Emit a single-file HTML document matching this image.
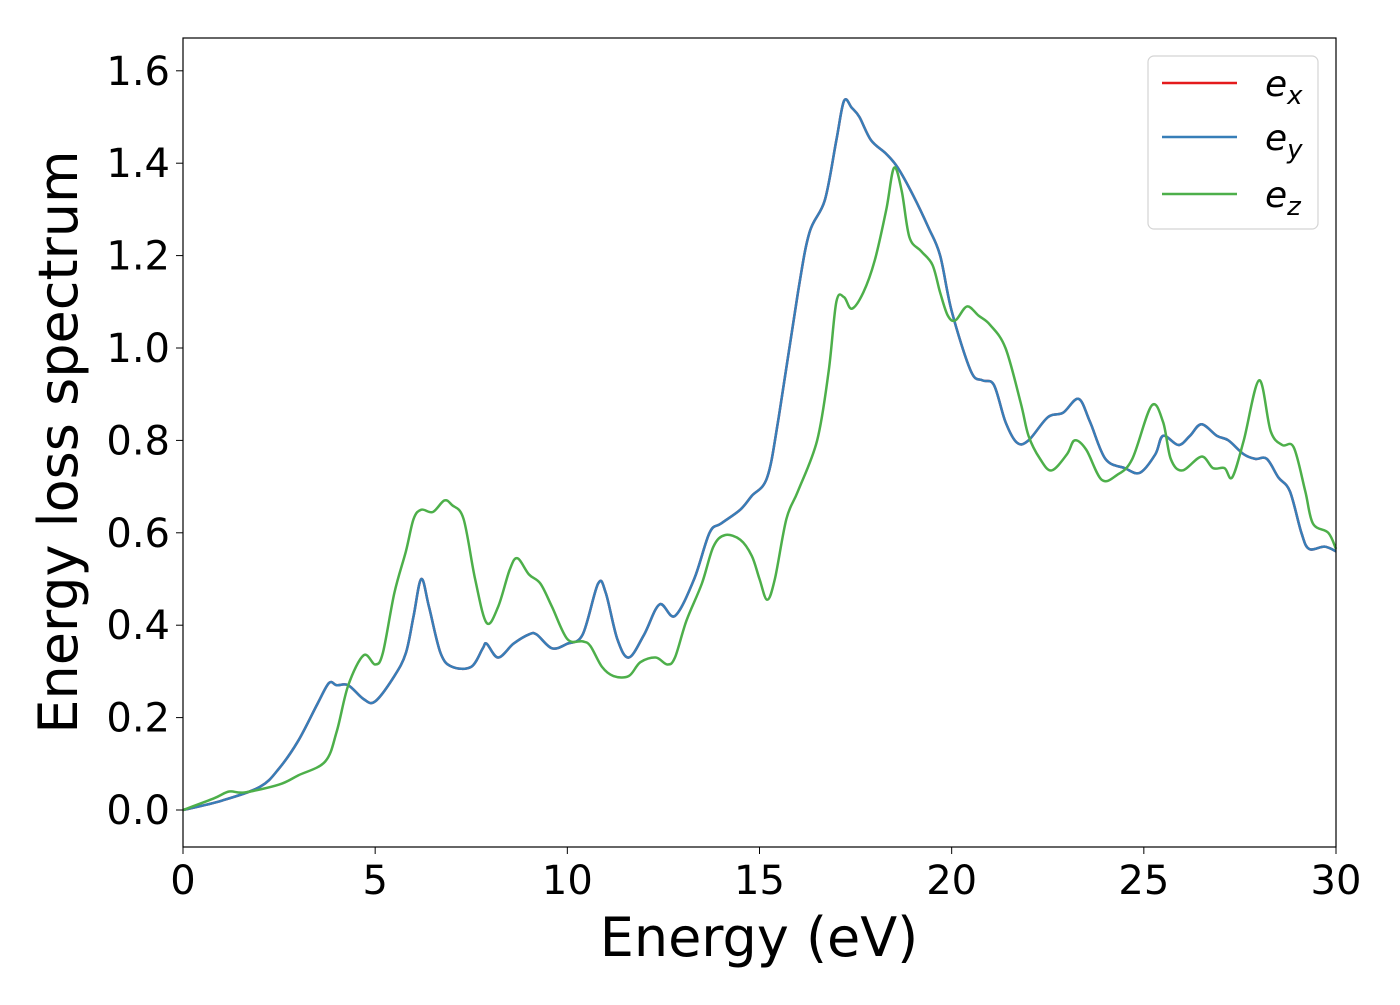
<!DOCTYPE html>
<html><head><meta charset="utf-8"><style>
body{margin:0;background:#fff;}
svg text{font-family:"DejaVu Sans","Liberation Sans",sans-serif;}
</style></head><body>
<svg id="chart" width="1400" height="1000" xmlns="http://www.w3.org/2000/svg">
<g id="lines"></g>
<rect x="183" y="38" width="1153" height="809" fill="none" stroke="#000" stroke-width="1.2"/>
<g id="xt"></g>
<g id="yt"></g>
<text x="759" y="956" font-size="54" text-anchor="middle">Energy (eV)</text>
<text transform="translate(77,442) rotate(-90)" font-size="54" text-anchor="middle">Energy loss spectrum</text>
<g>
<rect x="1148" y="56" width="170" height="173" rx="6" fill="#fff" stroke="#d0d0d0" stroke-width="1.2" opacity="0.9"/>
<line x1="1162" y1="83" x2="1237" y2="83" stroke="#e41a1c" stroke-width="2.5"/>
<text x="1265" y="96" font-size="36" font-style="italic">e<tspan font-size="26" dy="8">x</tspan></text>
<line x1="1162" y1="137" x2="1237" y2="137" stroke="#377eb8" stroke-width="2.5"/>
<text x="1265" y="150" font-size="36" font-style="italic">e<tspan font-size="26" dy="8">y</tspan></text>
<line x1="1162" y1="194" x2="1237" y2="194" stroke="#4daf4a" stroke-width="2.5"/>
<text x="1265" y="207" font-size="36" font-style="italic">e<tspan font-size="26" dy="8">z</tspan></text>
</g>
</svg>
<script>
const xTicks=[0,5,10,15,20,25,30];
const yTicks=[0.0,0.2,0.4,0.6,0.8,1.0,1.2,1.4,1.6];
const xyEnergy=[0,1,2,2.5,3,3.5,3.8,4,4.3,4.7,5,5.5,5.8,6,6.2,6.4,6.7,7,7.5,7.8,7.9,8.2,8.6,9,9.2,9.6,10,10.4,10.8,11,11.3,11.6,12,12.4,12.8,13.3,13.7,14,14.5,14.8,15.2,15.5,16,16.3,16.7,17,17.2,17.4,17.6,17.9,18.3,18.6,19,19.4,19.7,20,20.5,20.8,21.1,21.4,21.7,22,22.5,22.9,23.3,23.6,24,24.5,24.9,25.3,25.5,25.9,26.2,26.5,26.9,27.2,27.6,27.9,28.2,28.5,28.8,29.1,29.3,29.7,30];
const exValues=[0,0.02,0.05,0.09,0.15,0.23,0.275,0.27,0.27,0.24,0.235,0.29,0.34,0.42,0.5,0.44,0.34,0.31,0.31,0.35,0.36,0.33,0.36,0.38,0.38,0.35,0.36,0.38,0.49,0.47,0.37,0.33,0.38,0.445,0.42,0.5,0.6,0.62,0.65,0.68,0.72,0.85,1.12,1.25,1.32,1.45,1.535,1.52,1.5,1.45,1.42,1.39,1.33,1.26,1.2,1.08,0.95,0.93,0.92,0.84,0.795,0.8,0.85,0.86,0.89,0.84,0.76,0.74,0.73,0.77,0.81,0.79,0.81,0.835,0.81,0.8,0.77,0.76,0.76,0.72,0.69,0.6,0.565,0.57,0.56];
const eyValues=exValues.slice();
const zEnergy=[0,0.8,1.2,1.6,2.5,3,3.7,4,4.3,4.7,5,5.2,5.5,5.8,6,6.2,6.5,6.8,7,7.3,7.6,7.9,8.2,8.5,8.7,9,9.3,9.6,10,10.4,10.6,10.9,11.2,11.6,11.9,12.3,12.6,12.8,13.1,13.5,13.8,14.1,14.5,14.8,15,15.2,15.4,15.7,16,16.5,16.8,17,17.2,17.4,17.7,18,18.3,18.5,18.7,18.9,19.2,19.5,19.7,19.9,20.1,20.4,20.7,21,21.4,21.8,22,22.3,22.6,23,23.2,23.5,23.9,24.3,24.7,25.2,25.5,25.7,26,26.5,26.8,27.1,27.3,27.6,28,28.3,28.6,28.9,29.2,29.4,29.8,30];
const ezValues=[0,0.025,0.04,0.038,0.055,0.075,0.105,0.17,0.27,0.335,0.315,0.34,0.47,0.56,0.63,0.65,0.645,0.67,0.66,0.63,0.5,0.405,0.44,0.52,0.545,0.51,0.49,0.44,0.37,0.365,0.355,0.31,0.29,0.29,0.32,0.33,0.315,0.33,0.41,0.49,0.57,0.595,0.585,0.55,0.5,0.455,0.5,0.63,0.69,0.8,0.95,1.1,1.11,1.085,1.12,1.19,1.3,1.39,1.34,1.24,1.21,1.18,1.12,1.07,1.06,1.09,1.07,1.05,1.0,0.88,0.81,0.76,0.735,0.77,0.8,0.78,0.715,0.725,0.76,0.875,0.84,0.76,0.735,0.765,0.74,0.74,0.72,0.8,0.93,0.82,0.79,0.785,0.69,0.62,0.6,0.565];
const NS="http://www.w3.org/2000/svg";
const X=v=>183+v*1153/30;
const Y=v=>810-v*462;
function pathFor(xs,ys){
  const p=xs.map((x,i)=>[X(x),Y(ys[i])]);
  let d="M"+p[0][0]+","+p[0][1];
  for(let i=0;i<p.length-1;i++){
    const p0=p[Math.max(0,i-1)],p1=p[i],p2=p[i+1],p3=p[Math.min(p.length-1,i+2)];
    const c1=[p1[0]+(p2[0]-p0[0])/6,p1[1]+(p2[1]-p0[1])/6];
    const c2=[p2[0]-(p3[0]-p1[0])/6,p2[1]-(p3[1]-p1[1])/6];
    d+=" C"+c1+" "+c2+" "+p2;
  }
  return d;
}
const lines=document.getElementById('lines');
[[xyEnergy,exValues,'#e41a1c','series-ex'],[xyEnergy,eyValues,'#377eb8','series-ey'],[zEnergy,ezValues,'#4daf4a','series-ez']].forEach(s=>{
  const el=document.createElementNS(NS,'path');
  el.setAttribute('d',pathFor(s[0],s[1]));
  el.setAttribute('fill','none');el.setAttribute('stroke',s[2]);el.setAttribute('stroke-width','2.5');
  
  
  lines.appendChild(el);
});
const xt=document.getElementById('xt');
xTicks.forEach(t=>{
  const l=document.createElementNS(NS,'line');
  l.setAttribute('x1',X(t));l.setAttribute('x2',X(t));l.setAttribute('y1',847);l.setAttribute('y2',854);l.setAttribute('stroke','#000');
  
  
  xt.appendChild(l);
  const tx=document.createElementNS(NS,'text');
  tx.setAttribute('x',X(t));tx.setAttribute('y',894);tx.setAttribute('font-size','40');tx.setAttribute('text-anchor','middle');
  tx.textContent=t;
  
  
  xt.appendChild(tx);
});
const yt=document.getElementById('yt');
yTicks.forEach(t=>{
  const l=document.createElementNS(NS,'line');
  l.setAttribute('x1',176);l.setAttribute('x2',183);l.setAttribute('y1',Y(t));l.setAttribute('y2',Y(t));l.setAttribute('stroke','#000');
  
  
  yt.appendChild(l);
  const tx=document.createElementNS(NS,'text');
  tx.setAttribute('x',170);tx.setAttribute('y',Y(t)+14);tx.setAttribute('font-size','40');tx.setAttribute('text-anchor','end');
  tx.textContent=t.toFixed(1);
  
  
  yt.appendChild(tx);
});
</script>
</body></html>
